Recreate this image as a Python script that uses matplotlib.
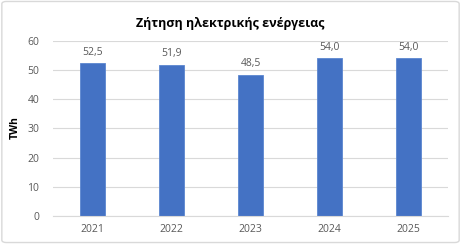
import matplotlib
matplotlib.use('Agg')
import matplotlib.pyplot as plt
from matplotlib.patches import FancyBboxPatch

plt.rcParams['font.family'] = ['Open Sans', 'DejaVu Sans']

years = ['2021', '2022', '2023', '2024', '2025']
demand = [52.5, 51.9, 48.5, 54.0, 54.0]
yticks = [0, 10, 20, 30, 40, 50, 60]

BAR = '#4472c4'
GRAY = '#595959'
GRID = '#d9d9d9'

fig = plt.figure(figsize=(4.61, 2.44), dpi=100)
ax = fig.add_axes([0.115, 0.115, 0.857, 0.717])

x = range(len(years))
ax.bar(x, demand, width=0.32, color=BAR, edgecolor='#5b86d0', linewidth=0.6, zorder=2)
for xi, v in zip(x, demand):
    ax.text(xi, v + 1.8, f'{v:.1f}'.replace('.', ','), ha='center', va='bottom',
            fontsize=7.5, color=GRAY)

ax.set_xlim(-0.5, len(years) - 0.5)
ax.set_ylim(0, 60)
ax.set_yticks(yticks)
ax.set_xticks(list(x))
ax.set_xticklabels(years)
ax.yaxis.grid(True, color=GRID, linewidth=0.8, zorder=0)
ax.set_axisbelow(True)
for s in ['top', 'right', 'left']:
    ax.spines[s].set_visible(False)
ax.spines['bottom'].set_color(GRID)
ax.tick_params(axis='both', length=0, labelsize=7.5, colors=GRAY)
ax.tick_params(axis='y', pad=10)
ax.tick_params(axis='x', pad=6)

fig.text(15 / 461, 1 - 128 / 244, 'TWh', rotation=90, ha='center', va='center',
         fontsize=7.5, fontweight='bold', color='black')
fig.text(0.5, 0.905, 'Ζήτηση ηλεκτρικής ενέργειας', ha='center', va='center',
         fontsize=9, fontweight='bold', color='black')

border = FancyBboxPatch((0.004, 0.006), 0.992, 0.988, boxstyle='round,pad=0,rounding_size=0.01',
                        transform=fig.transFigure, facecolor='none', edgecolor=GRID, linewidth=1)
fig.patches.append(border)

fig.savefig('out.png', dpi=100)
